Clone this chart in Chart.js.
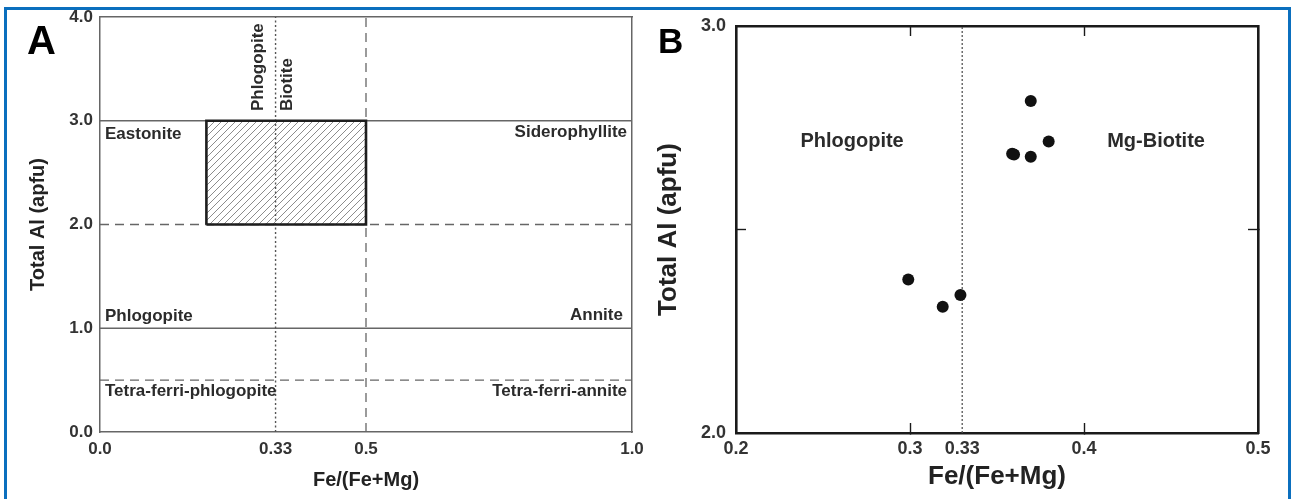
<!DOCTYPE html>
<html><head><meta charset="utf-8">
<script src="https://cdn.jsdelivr.net/npm/chart.js@4/dist/chart.umd.min.js"></script>
<style>
html,body{margin:0;padding:0;background:#fff;width:1292px;height:499px;overflow:hidden;position:relative;}
#frame{position:absolute;left:4px;top:7px;width:1281px;height:600px;border:3px solid #0b6fbe;}
#ca{position:absolute;left:0;top:0;width:650px;height:499px;}
#cb{position:absolute;left:650px;top:0;width:642px;height:499px;}
.letter{position:absolute;font-family:'Liberation Sans',Arial,sans-serif;font-weight:bold;color:#000;line-height:1;}
</style></head><body>
<div id="frame"></div>
<canvas id="ca" width="650" height="499"></canvas>
<canvas id="cb" width="642" height="499"></canvas>
<div class="letter" style="left:27px;top:20px;font-size:40px;">A</div>
<div class="letter" style="left:658px;top:23px;font-size:35px;">B</div>
<script>
// ---------- Panel A data ----------
const xTicksA = [0, 0.33, 0.5, 1.0];
const xTickLabelsA = ['0.0', '0.33', '0.5', '1.0'];
const yTicksA = [0, 1, 2, 3, 4];
const yTickLabelsA = ['0.0', '1.0', '2.0', '3.0', '4.0'];
const hSolidA = [3.0, 1.0];
const hDashedA = [2.0, 0.5];
const vDottedA = [0.33];
const vDashedA = [0.5];
const boxXA = [0.2, 0.5];
const boxYA = [2.0, 3.0];
const labelTextA = ['Eastonite', 'Siderophyllite', 'Phlogopite', 'Annite', 'Tetra-ferri-phlogopite', 'Tetra-ferri-annite', 'Phlogopite', 'Biotite'];
const labelXA = [0.0094, 0.9906, 0.0094, 0.983, 0.0094, 0.9906, 0.297, 0.353];
const labelYA = [2.872, 2.89, 1.118, 1.128, 0.395, 0.395, 3.094, 3.094];
const labelAlignA = ['left', 'right', 'left', 'right', 'left', 'right', 'left', 'left'];
const labelRotA = [0, 0, 0, 0, 0, 0, 1, 1];

// ---------- Panel B data ----------
const feRatioB = [0.299, 0.3188, 0.329, 0.3694, 0.3587, 0.3598, 0.3694, 0.3797];
const totalAlB = [2.377, 2.310, 2.339, 2.816, 2.686, 2.684, 2.679, 2.716];
const xTicksB = [0.2, 0.3, 0.33, 0.4, 0.5];
const xTickLabelsB = ['0.2', '0.3', '0.33', '0.4', '0.5'];
const xInnerTicksB = [0.3, 0.4];
const yTicksB = [2.0, 2.5, 3.0];
const yTickLabelsB = ['2.0', '', '3.0'];
const yInnerTicksB = [2.5];
const vDottedB = [0.33];
const labelTextB = ['Phlogopite', 'Mg-Biotite'];
const labelXB = [0.2667, 0.4414];
const labelYB = [2.717, 2.717];

// ---------- setup ----------
const FONT = "'Liberation Sans', Arial, Helvetica, sans-serif";
Chart.defaults.font.family = FONT;
Chart.defaults.color = '#2b2b2b';

function hatchPattern() {
  const c = document.createElement('canvas');
  c.width = 7; c.height = 7;
  const g = c.getContext('2d');
  g.strokeStyle = '#8c8c8c'; g.lineWidth = 1;
  g.beginPath();
  g.moveTo(-1, 8); g.lineTo(8, -1);
  g.moveTo(-1, 1); g.lineTo(1, -1);
  g.moveTo(6, 8); g.lineTo(8, 6);
  g.stroke();
  return g.createPattern(c, 'repeat');
}

function seg(points, color, width, dash, order) {
  return { data: points, showLine: true, borderColor: color, borderWidth: width, borderDash: dash || [],
           pointRadius: 0, fill: false, order: order, tension: 0 };
}

function fixSize(prop, size) {
  return s => { s[prop] = size; s.paddingTop = 0; s.paddingBottom = 0; s.paddingLeft = 0; s.paddingRight = 0; };
}

function labelPlugin(texts, xs, ys, aligns, rots, font) {
  return {
    id: 'fieldLabels',
    afterDatasetsDraw(chart) {
      const ctx = chart.ctx, sx = chart.scales.x, sy = chart.scales.y;
      texts.forEach((t, i) => {
        ctx.save();
        ctx.font = font; ctx.fillStyle = '#2b2b2b';
        ctx.translate(sx.getPixelForValue(xs[i]), sy.getPixelForValue(ys[i]));
        if (rots && rots[i]) ctx.rotate(-Math.PI / 2);
        ctx.textAlign = aligns ? aligns[i] : 'center';
        ctx.textBaseline = 'middle';
        ctx.fillText(t, 0, 0);
        ctx.restore();
      });
    }
  };
}

// ---------- Panel A ----------
const xMinA = xTicksA[0], xMaxA = xTicksA[xTicksA.length - 1];
const yMinA = yTicksA[0], yMaxA = yTicksA[yTicksA.length - 1];
const lineColA = '#666';
const dsA = [];
dsA.push(seg([{x: boxXA[0], y: boxYA[0]}, {x: boxXA[1], y: boxYA[0]}, {x: boxXA[1], y: boxYA[1]}, {x: boxXA[0], y: boxYA[1]}, {x: boxXA[0], y: boxYA[0]}], '#1e1e1e', 2.6, [], 1));
vDottedA.forEach(v => dsA.push(seg([{x: v, y: yMinA}, {x: v, y: yMaxA}], '#555', 1.4, [2, 2.5], 3)));
vDashedA.forEach(v => dsA.push(seg([{x: v, y: yMinA}, {x: v, y: yMaxA}], lineColA, 1.3, [9, 6], 4)));
hSolidA.forEach(v => dsA.push(seg([{x: xMinA, y: v}, {x: xMaxA, y: v}], lineColA, 1.3, [], 4)));
hDashedA.forEach(v => dsA.push(seg([{x: xMinA, y: v}, {x: xMaxA, y: v}], lineColA, 1.3, [9, 6], 4)));
dsA.push({ data: [{x: boxXA[0], y: boxYA[1]}, {x: boxXA[1], y: boxYA[1]}], showLine: true, borderWidth: 0,
           borderColor: 'rgba(0,0,0,0)', pointRadius: 0, fill: {value: boxYA[0]}, backgroundColor: hatchPattern(), order: 10 });

const tickFontA = {size: 17, weight: 'bold', family: FONT};
const frameA = {display: true, color: '#666', width: 1.5};
new Chart(document.getElementById('ca'), {
  type: 'line',
  data: { datasets: dsA },
  options: {
    responsive: false, animation: false, events: [],
    layout: { padding: {left: 0, top: 17, right: 18, bottom: 0}, autoPadding: false },
    plugins: { legend: {display: false}, tooltip: {enabled: false} },
    scales: {
      x: { type: 'linear', position: 'bottom', min: xMinA, max: xMaxA,
           afterBuildTicks: s => { s.ticks = xTicksA.map(v => ({value: v})); },
           afterFit: fixSize('height', 67),
           ticks: { callback: (v, i) => xTickLabelsA[i], autoSkip: false, maxRotation: 0, padding: 7, font: tickFontA, color: '#333' },
           grid: { display: true, drawOnChartArea: false, drawTicks: false },
           border: frameA,
           title: { display: true, text: 'Fe/(Fe+Mg)', font: {size: 20, weight: 'bold', family: FONT, lineHeight: 1.2}, color: '#222', padding: {top: 0, bottom: 7} } },
      y: { type: 'linear', position: 'left', min: yMinA, max: yMaxA,
           afterBuildTicks: s => { s.ticks = yTicksA.map(v => ({value: v})); },
           afterFit: fixSize('width', 100),
           ticks: { callback: (v, i) => yTickLabelsA[i], autoSkip: false, padding: 7, font: tickFontA, color: '#333' },
           grid: { display: true, drawOnChartArea: false, drawTicks: false },
           border: frameA,
           title: { display: true, text: 'Total Al (apfu)', font: {size: 20, weight: 'bold', family: FONT, lineHeight: 1.2}, color: '#222', padding: {top: 26, bottom: 0} } },
      x2: { type: 'linear', position: 'top', min: xMinA, max: xMaxA,
            afterFit: fixSize('height', 0),
            ticks: { display: false }, grid: { display: true, drawOnChartArea: false, drawTicks: false }, border: frameA },
      y2: { type: 'linear', position: 'right', min: yMinA, max: yMaxA,
            afterFit: fixSize('width', 0),
            ticks: { display: false }, grid: { display: true, drawOnChartArea: false, drawTicks: false }, border: frameA }
    }
  },
  plugins: [labelPlugin(labelTextA, labelXA, labelYA, labelAlignA, labelRotA, "bold 17px " + FONT)]
});

// ---------- Panel B ----------
const xMinB = xTicksB[0], xMaxB = xTicksB[xTicksB.length - 1];
const yMinB = yTicksB[0], yMaxB = yTicksB[yTicksB.length - 1];
const dsB = [];
dsB.push({ data: feRatioB.map((v, i) => ({x: v, y: totalAlB[i]})), showLine: false, pointRadius: 6,
           pointBackgroundColor: '#111', pointBorderWidth: 0, pointBorderColor: '#111', order: 1 });
vDottedB.forEach(v => dsB.push(seg([{x: v, y: yMinB}, {x: v, y: yMaxB}], '#555', 1.3, [2, 2], 5)));

const tickFontB = {size: 18, weight: 'bold', family: FONT};
const frameB = {display: true, color: '#1a1a1a', width: 2.6};
const innerGrid = (vals) => ({ display: true, drawOnChartArea: false, drawTicks: true, tickLength: -10, tickWidth: 1.4,
  tickColor: c => (c.tick && vals.includes(c.tick.value)) ? '#1a1a1a' : 'rgba(0,0,0,0)' });
new Chart(document.getElementById('cb'), {
  type: 'line',
  data: { datasets: dsB },
  options: {
    responsive: false, animation: false, events: [],
    layout: { padding: {left: 0, top: 26, right: 34, bottom: 0}, autoPadding: false },
    plugins: { legend: {display: false}, tooltip: {enabled: false} },
    scales: {
      x: { type: 'linear', position: 'bottom', min: xMinB, max: xMaxB,
           afterBuildTicks: s => { s.ticks = xTicksB.map(v => ({value: v})); },
           afterFit: fixSize('height', 66),
           ticks: { callback: (v, i) => xTickLabelsB[i], autoSkip: false, maxRotation: 0, padding: 15, font: tickFontB, color: '#333' },
           grid: innerGrid(xInnerTicksB),
           border: frameB,
           title: { display: true, text: 'Fe/(Fe+Mg)', font: {size: 26, weight: 'bold', family: FONT, lineHeight: 1.2}, color: '#222', padding: {top: 0, bottom: 7} } },
      y: { type: 'linear', position: 'left', min: yMinB, max: yMaxB,
           afterBuildTicks: s => { s.ticks = yTicksB.map(v => ({value: v})); },
           afterFit: fixSize('width', 86),
           ticks: { callback: (v, i) => yTickLabelsB[i], autoSkip: false, padding: 20, font: tickFontB, color: '#333' },
           grid: innerGrid(yInnerTicksB),
           border: frameB,
           title: { display: true, text: 'Total Al (apfu)', font: {size: 26, weight: 'bold', family: FONT, lineHeight: 1.2}, color: '#222', padding: {top: 3, bottom: 0} } },
      x2: { type: 'linear', position: 'top', min: xMinB, max: xMaxB,
            afterBuildTicks: s => { s.ticks = xInnerTicksB.map(v => ({value: v})); },
            afterFit: fixSize('height', 0),
            ticks: { display: false }, grid: innerGrid(xInnerTicksB), border: frameB },
      y2: { type: 'linear', position: 'right', min: yMinB, max: yMaxB,
            afterBuildTicks: s => { s.ticks = yInnerTicksB.map(v => ({value: v})); },
            afterFit: fixSize('width', 0),
            ticks: { display: false }, grid: innerGrid(yInnerTicksB), border: frameB }
    }
  },
  plugins: [labelPlugin(labelTextB, labelXB, labelYB, null, null, "bold 20px " + FONT)]
});
</script>
</body></html>
